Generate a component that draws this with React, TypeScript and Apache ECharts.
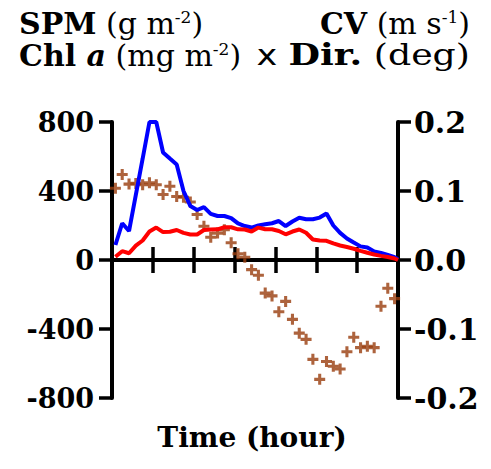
import React, { useEffect, useRef } from 'react';
import * as echarts from 'echarts';

// time in minutes from start (axis spans 0..420 min, one tick per hour)
const times = [5, 15, 25, 35, 45, 55, 65, 75, 85, 95, 105, 115, 125, 135, 145, 155, 165, 175, 185, 195, 205,
  215, 225, 235, 245, 255, 265, 275, 285, 295, 305, 315, 325, 335, 345, 355, 365, 375, 385, 395, 405, 415];
const endTime = 420;

// SPM (g m-2), left axis
const spm = [87, 213, 168, 377, 587, 800, 800, 623, 588, 554, 400, 313, 290, 307, 267, 255, 255, 243, 212, 197, 188,
  200, 207, 213, 226, 197, 223, 245, 236, 236, 246, 270, 200, 157, 125, 101, 79, 72, 50, 41, 29, 16];
const spmEnd = 5;

// Chl a (mg m-2), left axis
const chl = [19, 51, 39, 83, 113, 165, 188, 162, 164, 174, 157, 148, 148, 174, 177, 178, 190, 190, 178, 177, 165,
  188, 178, 178, 168, 149, 165, 177, 158, 119, 113, 111, 96, 84, 75, 65, 53, 42, 32, 24, 17, 9];
const chlEnd = 0;

// Dir. markers, right axis
const dir = [0.104, 0.124, 0.110, 0.111, 0.109, 0.112, 0.109, 0.095, 0.107, 0.092, 0.091, 0.084, 0.066, 0.049,
  0.033, 0.039, 0.044, 0.025, 0.009, 0.004, -0.014, -0.022, -0.048, -0.052, -0.075, -0.060, -0.086, -0.106,
  -0.115, -0.144, -0.173, -0.147, -0.154, -0.158, -0.133, -0.112, -0.127, -0.125, -0.127, -0.067, -0.041, -0.056];

const serif = 'DejaVu Serif';
const plusPath = 'path://M3.6,0 H6.4 V3.6 H10 V6.4 H6.4 V10 H3.6 V6.4 H0 V3.6 H3.6 Z';

export default function App() {
  const ref = useRef<HTMLDivElement>(null);
  useEffect(() => {
    const chart = echarts.init(ref.current!, null, { renderer: 'svg' });
    const lineStyle = { color: '#000', width: 4 };
    const tickStyle = { color: '#000', width: 3.5 };
    const fs = 30;
    const rich = {
      b: { fontFamily: serif, fontWeight: 'bold', fontSize: fs, fill: '#000' },
      bi: { fontFamily: serif, fontWeight: 'bold', fontStyle: 'italic', fontSize: fs, fill: '#000' },
      r: { fontFamily: serif, fontWeight: 'normal', fontSize: fs, fill: '#000' },
      s: { fontFamily: serif, fontWeight: 'normal', fontSize: 17, fill: '#000', verticalAlign: 'top', lineHeight: 19 },
      x: { fontFamily: 'DejaVu Sans', fontWeight: 'normal', fontSize: 29, fill: '#000' },
    };
    const xBase = {
      type: 'value',
      min: 0,
      max: 420,
      interval: 60,
      axisLine: { show: true, onZero: true, lineStyle },
      axisLabel: { show: false },
      splitLine: { show: false },
    };
    chart.setOption({
      animation: false,
      backgroundColor: '#fff',
      grid: { left: 112, right: 93, top: 122, bottom: 71, containLabel: false, outerBoundsMode: 'none' },
      xAxis: [
        {
          ...xBase,
          position: 'bottom',
          axisTick: { show: true, inside: false, length: 13, lineStyle: tickStyle },
        },
        {
          ...xBase,
          position: 'top',
          axisTick: { show: true, inside: false, length: 13, lineStyle: tickStyle },
        },
      ],
      yAxis: [
        {
          type: 'value',
          position: 'left',
          min: -800,
          max: 800,
          interval: 400,
          axisLine: { show: true, onZero: false, lineStyle },
          axisTick: { show: true, inside: false, length: 13, lineStyle: tickStyle },
          axisLabel: { fontFamily: serif, fontWeight: 'bold', fontSize: 27, color: '#000', margin: 18 },
          splitLine: { show: false },
        },
        {
          type: 'value',
          position: 'right',
          min: -0.2,
          max: 0.2,
          interval: 0.1,
          axisLine: { show: true, onZero: false, lineStyle },
          axisTick: { show: true, inside: false, length: 13, lineStyle: tickStyle },
          axisLabel: {
            fontFamily: serif, fontWeight: 'bold', fontSize: 30, color: '#000', margin: 16,
            formatter: (v: number) => (Math.abs(v) < 1e-9 ? '0.0' : v.toFixed(1)),
          },
          splitLine: { show: false },
        },
      ],
      series: [
        {
          type: 'line',
          name: 'SPM',
          xAxisIndex: 0,
          yAxisIndex: 0,
          symbol: 'none',
          lineStyle: { color: '#0000ff', width: 4 },
          data: [...times.map((t, i) => [t, spm[i]]), [endTime, spmEnd]],
        },
        {
          type: 'line',
          name: 'Chl a',
          xAxisIndex: 0,
          yAxisIndex: 0,
          symbol: 'none',
          lineStyle: { color: '#ff0000', width: 4 },
          data: [...times.map((t, i) => [t, chl[i]]), [endTime, chlEnd]],
        },
        {
          type: 'scatter',
          name: 'Dir.',
          xAxisIndex: 0,
          yAxisIndex: 1,
          symbol: plusPath,
          symbolSize: 11,
          itemStyle: { color: '#983c0c' },
          data: times.map((t, i) => [t, dir[i]]),
        },
      ],
      graphic: [
        {
          type: 'text', x: 19, y: 23,
          style: { text: '{b|SPM}{r| (g m}{s|-2}{r|)}', rich, align: 'left', verticalAlign: 'middle', fontSize: fs, fontFamily: serif },
        },
        {
          type: 'text', x: 19, y: 55,
          style: { text: '{b|Chl }{bi|a}{r| (mg m}{s|-2}{r|)}', rich, align: 'left', verticalAlign: 'middle', fontSize: fs, fontFamily: serif },
        },
        {
          type: 'text', x: 470, y: 23,
          style: { text: '{b|CV}{r| (m s}{s|-1}{r|)}', rich, align: 'right', verticalAlign: 'middle', fontSize: fs, fontFamily: serif },
        },
        {
          type: 'text', x: 470, y: 55, scaleX: 1.21,
          style: { text: '{x|x }{b|Dir.}{r| (deg)}', rich, align: 'right', verticalAlign: 'middle', fontSize: fs, fontFamily: serif },
        },
        {
          type: 'text', x: 252, y: 437,
          style: {
            text: 'Time (hour)', align: 'center', verticalAlign: 'middle',
            fontFamily: serif, fontWeight: 'bold', fontSize: 28, fill: '#000',
          },
        },
      ],
    });
    return () => chart.dispose();
  }, []);
  return <div ref={ref} style={{ position: 'absolute', left: 0, top: 0, width: 491, height: 469 }} />;
}
